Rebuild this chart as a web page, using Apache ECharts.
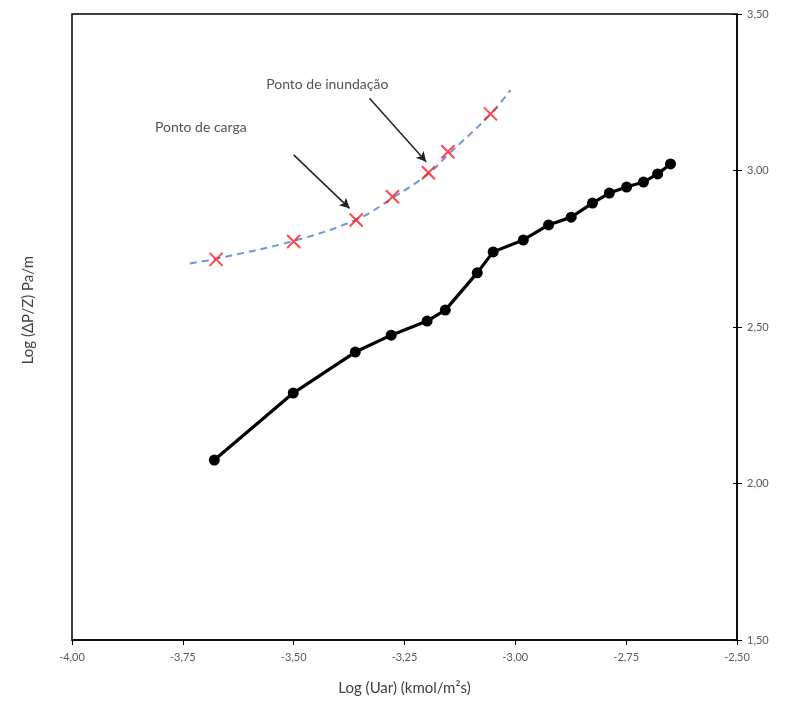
<!DOCTYPE html>
<html><head><meta charset="utf-8">
<script src="https://cdn.jsdelivr.net/npm/echarts@6/dist/echarts.min.js"></script>
<style>html,body{margin:0;padding:0;background:#fff}#c{width:787px;height:704px}</style>
</head><body><div id="c"></div>
<script>
// Black series: experimental (log Uar, log dP/Z)
const blackX = [-3.679,-3.501,-3.361,-3.280,-3.199,-3.158,-3.086,-3.050,-2.982,-2.925,-2.874,-2.826,-2.788,-2.749,-2.711,-2.679,-2.650];
const blackY = [2.075,2.289,2.420,2.474,2.519,2.554,2.673,2.740,2.778,2.826,2.851,2.896,2.928,2.947,2.963,2.989,3.021];
// Red crosses
const redX = [-3.675,-3.500,-3.359,-3.277,-3.196,-3.152,-3.056];
const redY = [2.716,2.773,2.842,2.916,2.993,3.060,3.181];
// Dashed trend line
const trendX = [-3.734,-3.675,-3.500,-3.359,-3.277,-3.196,-3.152,-3.056,-3.011];
const trendY = [2.703,2.718,2.775,2.843,2.912,2.990,3.050,3.180,3.257];
// Annotations
const annText = ['Ponto de carga','Ponto de inundação'];
const annPos = [[-3.813,3.136],[-3.562,3.276]];
const arrows = [[[-3.500,3.050],[-3.374,2.879]],[[-3.329,3.231],[-3.201,3.028]]];

const fmt = v => v.toFixed(2).replace('.', ',');
const chart = echarts.init(document.getElementById('c'));
chart.setOption({
  animation:false,
  backgroundColor:'#fff',
  grid:{left:72,right:50,top:14,bottom:64,show:true,borderColor:'#000',borderWidth:1.5},
  xAxis:{type:'value',min:-4,max:-2.5,interval:0.25,
    axisLine:{show:true,onZero:false,lineStyle:{color:'#000',width:1.5}},
    axisTick:{show:true,length:5,lineStyle:{color:'#000'}},
    splitLine:{show:false},
    axisLabel:{formatter:fmt,color:'#595959',fontSize:11,fontFamily:'Lato',margin:12},
    name:'Log (Uar) (kmol/m²s)',nameLocation:'middle',nameGap:41,
    nameTextStyle:{color:'#404040',fontSize:15,fontFamily:'Lato'}},
  yAxis:[{type:'value',position:'right',min:1.5,max:3.5,interval:0.5,
    axisLine:{show:true,onZero:false,lineStyle:{color:'#000',width:1.5}},
    axisTick:{show:true,length:5,lineStyle:{color:'#000'}},
    splitLine:{show:false},
    axisLabel:{formatter:fmt,color:'#595959',fontSize:11,fontFamily:'Lato',margin:10}},
   {type:'value',position:'right',min:1.5,max:3.5,interval:0.5,
    axisLine:{show:false},axisTick:{show:true,inside:true,length:4,lineStyle:{color:'#000'}},
    splitLine:{show:false},axisLabel:{show:false}}],
  graphic:[{type:'text',left:21,top:256,rotation:Math.PI/2,
    style:{text:'Log (ΔP/Z) Pa/m',fill:'#404040',font:'15px Lato'}}],
  series:[
    {type:'line',data:trendX.map((x,i)=>[x,trendY[i]]),smooth:0.4,symbol:'none',
     lineStyle:{color:'#6f96d8',width:2,type:[7,5]},z:2},
    {type:'line',data:blackX.map((x,i)=>[x,blackY[i]]),symbol:'circle',symbolSize:11,
     lineStyle:{color:'#000',width:3.2},itemStyle:{color:'#000'},z:3},
    {type:'scatter',data:redX.map((x,i)=>[x,redY[i]]),
     symbol:'path://M0,0L10,10M10,0L0,10',symbolSize:13,
     itemStyle:{color:'none',borderColor:'#ff1a1a',borderWidth:2},z:4},
    {type:'scatter',data:annPos.map((p,i)=>({value:p,name:annText[i]})),symbolSize:0,
     label:{show:true,position:'right',distance:0,formatter:p=>p.name,color:'#262626',fontSize:14,fontFamily:'Lato'},
     z:5,
     markLine:{silent:true,symbol:['none','arrow'],symbolSize:[8,10],
       lineStyle:{color:'#222',width:1.5,type:'solid'},label:{show:false},
       data:arrows.map(a=>[{coord:a[0]},{coord:a[1]}])}}
  ]
});
</script></body></html>
